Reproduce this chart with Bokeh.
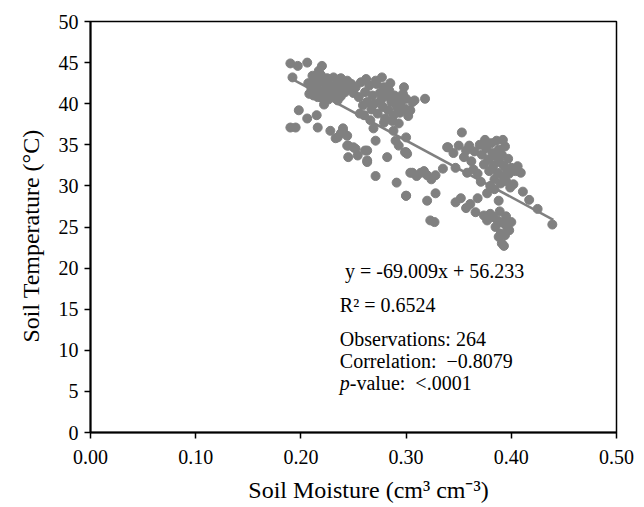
from bokeh.plotting import figure
from bokeh.models import NumeralTickFormatter, FixedTicker
from bokeh.core.properties import value
from bokeh.embed import file_html
from bokeh.resources import INLINE

# ---- data ----
moisture = [
    0.190, 0.197, 0.206, 0.220, 0.217, 0.192, 0.211, 0.216, 0.231, 0.238, 0.245, 0.235, 0.198, 0.206, 0.215,
    0.190, 0.195, 0.216, 0.228, 0.240, 0.244, 0.235, 0.233, 0.238, 0.245, 0.252, 0.245, 0.254, 0.263, 0.263,
    0.250, 0.261, 0.263, 0.282, 0.271, 0.291, 0.300, 0.300, 0.306, 0.299,
    0.207, 0.210, 0.212, 0.214, 0.216, 0.218, 0.220, 0.221, 0.223, 0.224, 0.226, 0.227, 0.229, 0.230, 0.232,
    0.233, 0.235, 0.236, 0.238, 0.240, 0.242, 0.244, 0.246, 0.248, 0.250, 0.213, 0.219, 0.225, 0.208, 0.222,
    0.252, 0.255, 0.257, 0.259, 0.261, 0.263, 0.265, 0.267, 0.268, 0.270, 0.272, 0.273, 0.275, 0.276, 0.278,
    0.279, 0.281, 0.283, 0.284, 0.286, 0.288, 0.289, 0.291, 0.292, 0.294, 0.295, 0.297, 0.299, 0.300, 0.302,
    0.304, 0.306, 0.308, 0.260, 0.266, 0.280, 0.287, 0.271, 0.262, 0.277, 0.318, 0.293, 0.288, 0.279, 0.269,
    0.271, 0.290, 0.293, 0.300, 0.240, 0.244, 0.256, 0.298, 0.285,
    0.301, 0.304, 0.314, 0.320, 0.328, 0.335, 0.300, 0.320, 0.328, 0.323, 0.327, 0.310, 0.317, 0.324,
    0.353, 0.340, 0.350, 0.360, 0.357, 0.339, 0.347, 0.368, 0.377, 0.355, 0.362, 0.365, 0.370, 0.372, 0.374,
    0.376, 0.378, 0.379, 0.381, 0.382, 0.383, 0.384, 0.385, 0.386, 0.387, 0.388, 0.389, 0.390, 0.391, 0.392,
    0.393, 0.394, 0.395, 0.396, 0.397, 0.398, 0.400, 0.402, 0.404, 0.406, 0.409, 0.411, 0.417, 0.425, 0.439,
    0.388, 0.380, 0.371, 0.364, 0.358, 0.345, 0.375, 0.384, 0.399, 0.392,
    0.352, 0.361, 0.357, 0.380, 0.387, 0.377, 0.383, 0.385, 0.389, 0.390, 0.391, 0.392, 0.394, 0.395, 0.396,
    0.398, 0.400, 0.393, 0.388, 0.374, 0.366, 0.347, 0.368,
]
temperature = [
    44.9, 44.6, 45.0, 44.6, 44.0, 43.2, 43.4, 42.5, 43.2, 43.1, 42.6, 40.4, 39.2, 38.2, 38.6,
    37.1, 37.1, 37.1, 36.7, 36.7, 36.1, 35.9, 35.8, 36.4, 34.9, 34.5, 33.5, 33.7, 32.9, 34.3,
    34.7, 34.3, 33.1, 33.5, 31.2, 30.4, 28.8, 34.1, 31.6, 34.1,
    42.5, 41.8, 41.0, 42.2, 40.8, 41.5, 42.8, 40.6, 41.9, 41.2, 40.5, 42.3, 41.6, 40.8, 42.0,
    41.2, 42.5, 41.7, 40.9, 42.2, 41.4, 42.8, 41.9, 42.4, 41.3, 43.0, 43.5, 43.1, 41.2, 39.9,
    42.0, 40.8, 42.6, 39.8, 41.4, 40.2, 42.2, 39.3, 41.0, 40.0, 42.4, 38.8, 41.3, 40.4, 39.6,
    42.0, 40.9, 39.2, 41.6, 40.2, 38.6, 41.0, 39.6, 40.6, 38.9, 40.2, 41.2, 39.4, 40.6, 38.5,
    39.2, 40.2, 40.4, 38.6, 38.0, 38.2, 37.9, 42.8, 43.0, 43.2, 40.6, 37.6, 36.7, 37.7, 37.0,
    35.5, 35.5, 34.9, 35.9, 37.0, 34.9, 38.8, 42.0, 42.5,
    33.9, 31.6, 31.6, 31.3, 31.3, 32.1, 28.8, 28.2, 29.1, 25.8, 25.6, 31.2, 31.8, 30.8,
    36.5, 34.7, 34.9, 34.9, 34.3, 34.7, 32.2, 31.5, 29.1, 33.5, 33.0, 34.2, 35.0, 33.8, 32.6,
    34.6, 33.2, 31.8, 35.2, 34.0, 32.5, 30.8, 33.6, 35.5, 31.6, 34.4, 32.9, 30.3, 33.8, 31.2,
    32.4, 34.8, 30.6, 32.0, 33.3, 31.5, 32.2, 30.2, 31.8, 32.4, 31.6, 29.3, 28.3, 27.2, 25.3,
    28.2, 30.0, 30.5, 32.0, 31.6, 34.0, 35.6, 29.6, 29.8, 35.6,
    28.5, 27.8, 27.3, 26.6, 25.8, 25.8, 26.2, 25.0, 26.9, 24.2, 23.0, 25.5, 24.0, 26.3, 25.0,
    24.6, 25.6, 22.7, 23.8, 26.4, 26.8, 28.0, 28.5,
]

slope = -69.009
intercept = 56.233
fit_x = [0.19, 0.44]
fit_y = [slope * v + intercept for v in fit_x]

x_ticks = [0.0, 0.1, 0.2, 0.3, 0.4, 0.5]
y_ticks = [0, 5, 10, 15, 20, 25, 30, 35, 40, 45, 50]

NB = "\u00a0"
eq_text = "y = -69.009x + 56.233"
r2_text = "R\u00b2 = 0.6524"
stats_lines = ["Observations: 264", "Correlation:" + NB + NB + "\u22120.8079"]
p_prefix = "p"
p_rest = "-value:" + NB + NB + "<.0001"

# ---- figure ----
FONT = "Liberation Serif"
GRAY = "#808080"

p = figure(width=644, height=507, x_range=(0, 0.5), y_range=(0, 50),
           output_backend="svg", toolbar_location=None,
           min_border_left=90, min_border_right=28, min_border_top=21, min_border_bottom=75)
p.background_fill_color = "white"
p.border_fill_color = "white"
p.outline_line_color = "black"
p.outline_line_width = 1.5
p.grid.visible = False

p.xaxis.ticker = FixedTicker(ticks=x_ticks)
p.yaxis.ticker = FixedTicker(ticks=y_ticks)
p.xaxis.formatter = NumeralTickFormatter(format="0.00")

for ax in (p.xaxis, p.yaxis):
    ax.axis_line_width = 2
    ax.axis_line_color = "black"
    ax.major_tick_line_color = "black"
    ax.major_tick_line_width = 1.5
    ax.minor_tick_line_color = None
    ax.major_tick_in = 0
    ax.major_tick_out = 6
    ax.major_label_text_font = FONT
    ax.major_label_text_font_size = "20px"
    ax.major_label_text_color = "black"
    ax.axis_label_text_font = FONT
    ax.axis_label_text_font_style = "normal"
    ax.axis_label_text_font_size = "24px"
    ax.axis_label_text_color = "black"

p.xaxis.major_label_standoff = 11
p.yaxis.major_label_standoff = 6
p.xaxis.axis_label = NB * 5 + "Soil Moisture (cm\u00b3 cm\u207b\u00b3)"
p.yaxis.axis_label = "Soil Temperature (\u00b0C)" + NB * 3
p.xaxis.axis_label_standoff = 10
p.yaxis.axis_label_standoff = 12

p.scatter(moisture, temperature, size=9, color=GRAY, line_color=GRAY)
p.line(fit_x, fit_y, line_color=GRAY, line_width=2.5)

FS = "20px"
p.text(x=[0.242], y=[19.6], text=[eq_text], text_font=value(FONT), text_font_size=FS,
       text_baseline="middle", text_align="left", text_color="black")
p.text(x=[0.237], y=[15.5], text=[r2_text], text_font=value(FONT), text_font_size=FS,
       text_baseline="middle", text_align="left", text_color="black")
p.text(x=[0.237, 0.237], y=[11.4, 8.7], text=stats_lines, text_font=value(FONT), text_font_size=FS,
       text_baseline="middle", text_align="left", text_color="black")
p.text(x=[0.237], y=[6.0], text=[p_prefix], text_font=value(FONT), text_font_size=FS,
       text_font_style="italic", text_baseline="middle", text_align="left", text_color="black")
p.text(x=[0.237], y=[6.0], text=[p_rest], text_font=value(FONT), text_font_size=FS,
       x_offset=10, text_baseline="middle", text_align="left", text_color="black")

open("out.html", "w").write(file_html(p, INLINE))
